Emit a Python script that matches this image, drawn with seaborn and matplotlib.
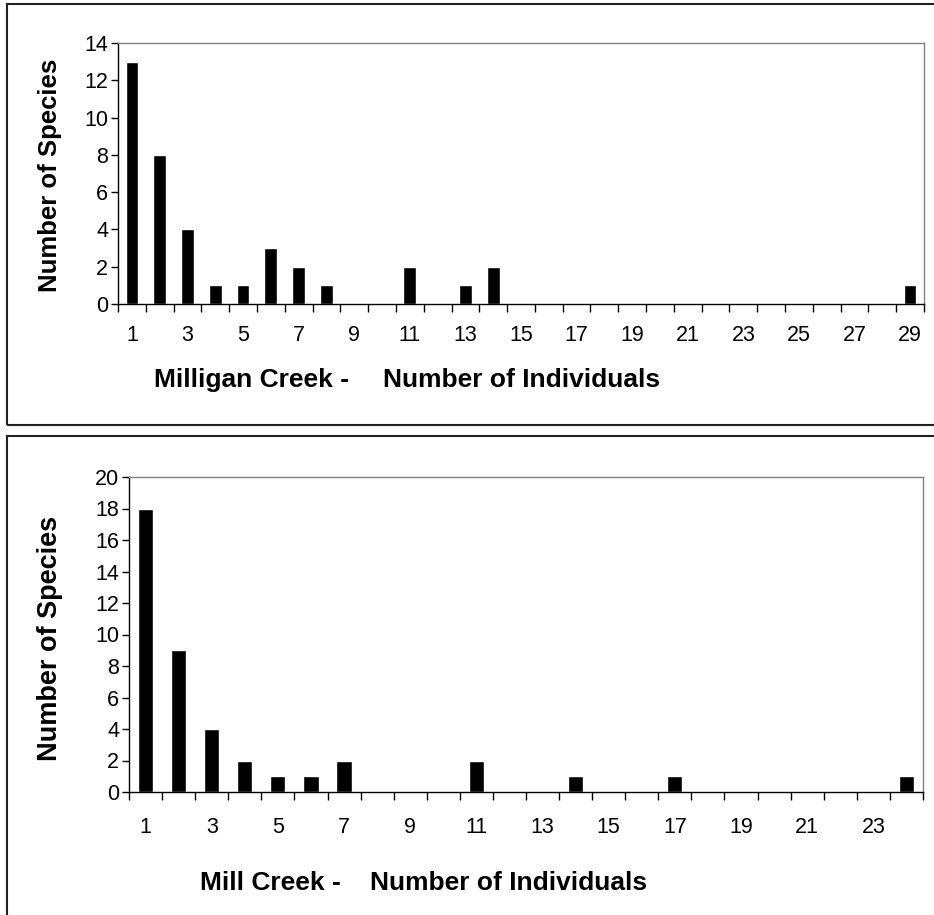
import numpy as np
import pandas as pd
import matplotlib
matplotlib.use('Agg')
import matplotlib.pyplot as plt
from matplotlib.patches import Rectangle
import seaborn as sns

# Milligan Creek: number of species having 1..29 individuals
milligan_individuals = list(range(1, 30))
milligan_species = [13, 8, 4, 1, 1, 3, 2, 1, 0, 0, 2, 0, 1, 2, 0,
                    0, 0, 0, 0, 0, 0, 0, 0, 0, 0, 0, 0, 0, 1]

# Mill Creek: number of species having 1..24 individuals
mill_individuals = list(range(1, 25))
mill_species = [18, 9, 4, 2, 1, 1, 2, 0, 0, 0, 2, 0, 0, 1, 0,
                0, 1, 0, 0, 0, 0, 0, 0, 1]

milligan_yticks = [0, 2, 4, 6, 8, 10, 12, 14]
mill_yticks = [0, 2, 4, 6, 8, 10, 12, 14, 16, 18, 20]

sns.set_style('white')
plt.rcParams['font.family'] = ['Liberation Sans', 'DejaVu Sans']
plt.rcParams['text.color'] = 'black'
plt.rcParams['xtick.color'] = 'black'
plt.rcParams['ytick.color'] = 'black'

W, H = 934, 915
fig = plt.figure(figsize=(W / 100, H / 100), dpi=100)


def px_axes(left, top, right, bottom):
    return fig.add_axes([left / W, 1 - bottom / H, (right - left) / W, (bottom - top) / H])


def draw_panel(ax, cats, vals, yticks, label_pad):
    df = pd.DataFrame({'n': cats, 'species': vals})
    sns.barplot(data=df, x='n', y='species', order=cats, color='black',
                width=0.46, saturation=1, ax=ax)
    n = len(cats)
    ax.set_xlim(-0.5, n - 0.5)
    ax.set_ylim(yticks[0], yticks[-1])
    ax.set_yticks(yticks)
    ax.set_yticklabels([str(t) for t in yticks])
    # tick marks at category boundaries, labels under odd categories
    ax.set_xticks(np.arange(-0.5, n, 1.0))
    ax.set_xticklabels([])
    ax.set_xticks(np.arange(0, n, 2), minor=True)
    ax.set_xticklabels([str(c) for c in cats[::2]], minor=True)
    ax.tick_params(axis='x', which='major', direction='out', length=5.5, width=1,
                   color='black', bottom=True)
    ax.tick_params(axis='x', which='minor', length=0, pad=label_pad, bottom=True,
                   labelsize=15.5, labelcolor='black')
    ax.tick_params(axis='y', direction='out', length=5, width=1, color='black',
                   pad=2, left=True, labelsize=15.5, labelcolor='black')
    ax.set_xlabel('')
    ax.set_ylabel('')
    for s in ['left', 'bottom']:
        ax.spines[s].set_color('black')
        ax.spines[s].set_linewidth(1)
    for s in ['top', 'right']:
        ax.spines[s].set_color('#808080')
        ax.spines[s].set_linewidth(1)


# outer frames
fig.patches.append(Rectangle((7 / W, 1 - 425 / H), 1.0, 421 / H, transform=fig.transFigure,
                             fill=False, edgecolor='#222222', linewidth=1.5))
fig.patches.append(Rectangle((7 / W, -0.05), 1.0, 1 - 436 / H + 0.05, transform=fig.transFigure,
                             fill=False, edgecolor='#222222', linewidth=1.5))

ax1 = px_axes(118, 43, 924, 304)
draw_panel(ax1, milligan_individuals, milligan_species, milligan_yticks, 15)

ax2 = px_axes(129, 477, 923, 792)
draw_panel(ax2, mill_individuals, mill_species, mill_yticks, 18)

fig.text(50 / W, 1 - 175 / H, 'Number of Species', rotation=90, fontsize=18.5,
         fontweight='bold', ha='center', va='center')
fig.text(154 / W, 1 - 380 / H, 'Milligan Creek -', fontsize=19, fontweight='bold',
         ha='left', va='center')
fig.text(383 / W, 1 - 380 / H, 'Number of Individuals', fontsize=19, fontweight='bold',
         ha='left', va='center')

fig.text(50 / W, 1 - 638 / H, 'Number of Species', rotation=90, fontsize=19.5,
         fontweight='bold', ha='center', va='center')
fig.text(200 / W, 1 - 883 / H, 'Mill Creek -', fontsize=19, fontweight='bold',
         ha='left', va='center')
fig.text(370 / W, 1 - 883 / H, 'Number of Individuals', fontsize=19, fontweight='bold',
         ha='left', va='center')

fig.savefig('out.png', dpi=100)
